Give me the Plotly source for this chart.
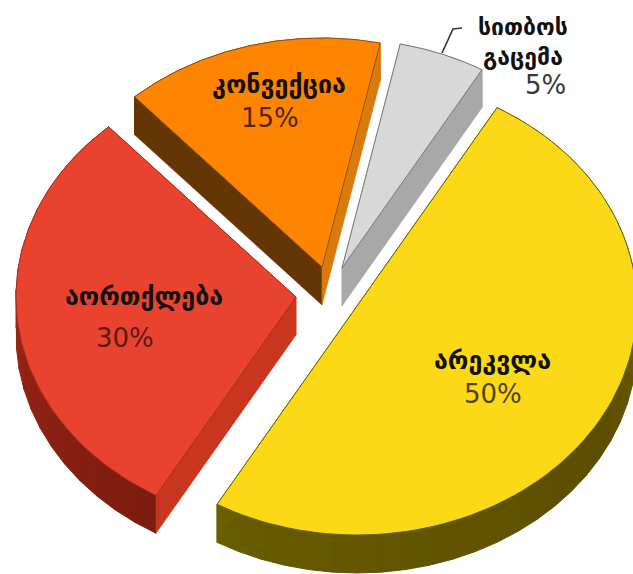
import math
import plotly.graph_objects as go

categories = ["არეკვლა", "აორთქლება", "კონვექცია", "სითბოს<br>გაცემა"]
values = [50, 30, 15, 5]

# Style and layout of the pseudo-3D pie (pixel space of the picture)
START_ANGLE = 60
RX, RY, DEPTH = 280, 229, 38
apex = [(357, 306), (296, 297), (322, 267), (342, 268)]
top_col = ["#fcd916", "#e94330", "#ff8500", "#d8d8d8"]
edge_col = ["#6e6200", "#a92c1c", "#94520a", "#777777"]
start_wall = ["#6b5f00", "#c9361f", "#643605", "#a8a8a8"]
end_wall = ["#6b5f00", "#c9361f", "#d97a0c", "#a8a8a8"]
outer_grad = [
    [(138, 122, 6), (92, 78, 0), (104, 92, 0)],
    [(122, 28, 16), (150, 36, 22), (190, 50, 30)],
    [(100, 54, 5), (100, 54, 5), (217, 122, 12)],
    [(168, 168, 168), (168, 168, 168), (168, 168, 168)],
]
pct_col = ["#4d4418", "#5c1a14", "#4f2608", "#3a3a3a"]
name_size = [25, 25, 25, 23]
name_pos = [(492, 360), (144, 296), (279, 84), (523, 42)]
pct_pos = [(493, 394), (125, 338), (270, 118), (545, 85)]


def pt(c, a):
    r = math.radians(a)
    return c[0] + RX * math.cos(r), c[1] - RY * math.sin(r)


def blend(stops, t):
    t = t * (len(stops) - 1)
    i = min(int(t), len(stops) - 2)
    f = t - i
    return "rgb(%d,%d,%d)" % tuple(stops[i][k] + (stops[i + 1][k] - stops[i][k]) * f for k in range(3))


def poly(fig, xs, ys, fill, line=None, width=0.6):
    fig.add_trace(go.Scatter(
        x=xs + xs[:1], y=ys + ys[:1], mode="lines", fill="toself", fillcolor=fill,
        line=dict(color=line or fill, width=width), hoverinfo="skip", showlegend=False))


fig = go.Figure()
total = sum(values)
angles = []
a = START_ANGLE
for v in values:
    angles.append((a, a - 360 * v / total))
    a -= 360 * v / total

for i in reversed(range(len(values))):
    c = apex[i]
    a0, a1 = angles[i]
    # outer wall
    n = max(2, int(abs(a1 - a0) / 5))
    for k in range(n):
        b0 = a0 + (a1 - a0) * k / n
        b1 = a0 + (a1 - a0) * (k + 1) / n
        q0, q1 = pt(c, b0), pt(c, b1)
        poly(fig, [q0[0], q1[0], q1[0], q0[0]], [q0[1], q1[1], q1[1] + DEPTH, q0[1] + DEPTH],
             blend(outer_grad[i], (k + 0.5) / n), width=1)
    # radial walls
    p0, p1 = pt(c, a0), pt(c, a1)
    poly(fig, [c[0], p0[0], p0[0], c[0]], [c[1], p0[1], p0[1] + DEPTH, c[1] + DEPTH], start_wall[i])
    poly(fig, [c[0], p1[0], p1[0], c[0]], [c[1], p1[1], p1[1] + DEPTH, c[1] + DEPTH], end_wall[i])
    # top face
    arc = [pt(c, a0 + (a1 - a0) * k / 90) for k in range(91)]
    poly(fig, [c[0]] + [p[0] for p in arc], [c[1]] + [p[1] for p in arc], top_col[i], edge_col[i], 1)

# leader line of the smallest slice
fig.add_trace(go.Scatter(x=[442, 453, 462], y=[53, 29, 28], mode="lines",
                         line=dict(color="#333333", width=1.6), hoverinfo="skip", showlegend=False))

for i, name in enumerate(categories):
    fig.add_annotation(x=name_pos[i][0], y=name_pos[i][1], text=name, showarrow=False,
                       font=dict(family="DejaVu Sans", size=name_size[i], color="#111111", weight="bold"))
    fig.add_annotation(x=pct_pos[i][0], y=pct_pos[i][1], text=f"{values[i]}%", showarrow=False,
                       font=dict(family="DejaVu Sans", size=26, color=pct_col[i]))

fig.update_layout(
    width=633, height=574, margin=dict(l=0, r=0, t=0, b=0),
    paper_bgcolor="white", plot_bgcolor="white", showlegend=False,
    xaxis=dict(range=[0, 633], visible=False, fixedrange=True),
    yaxis=dict(range=[574, 0], visible=False, fixedrange=True),
)
fig.write_html("out.html", config={"displayModeBar": False},
               post_script="document.body.style.margin='0';document.documentElement.style.overflow='hidden';")
